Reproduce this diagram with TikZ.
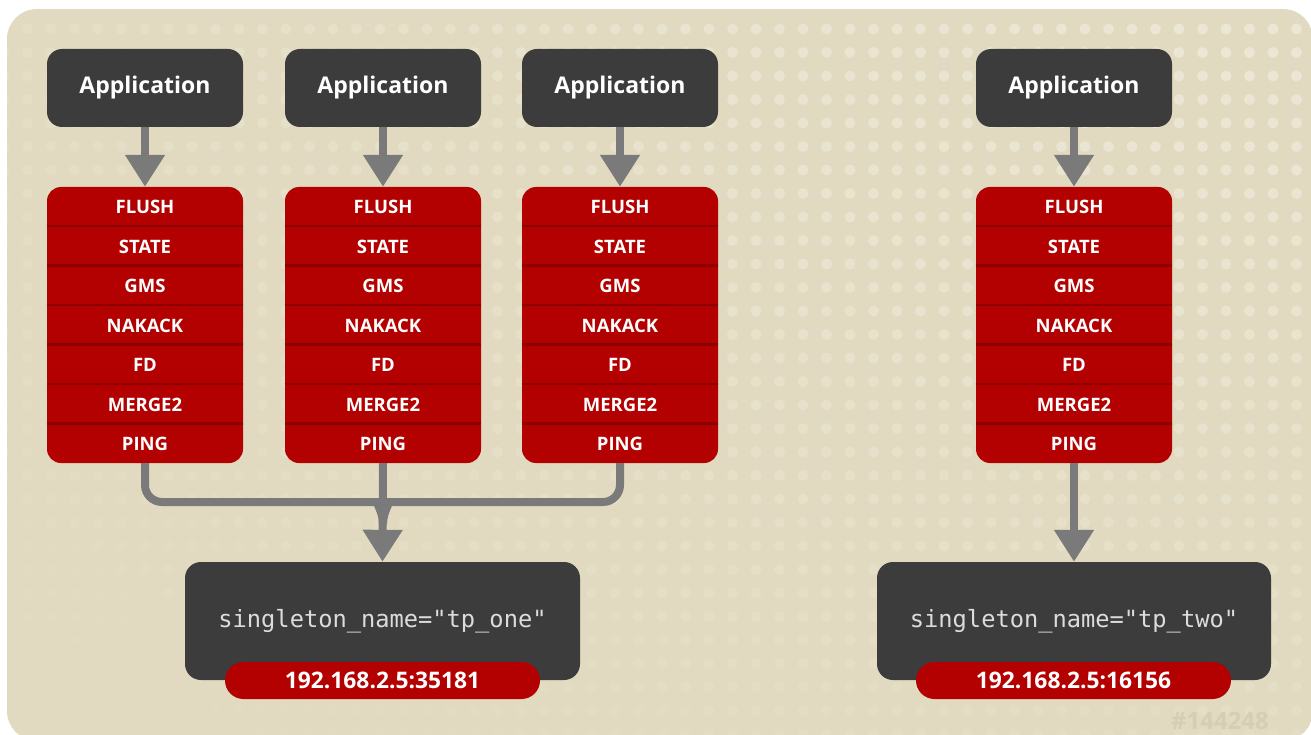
\documentclass[tikz,border=0pt]{standalone}
\usepackage{fontspec}
\setmainfont{Open Sans}
\setmonofont{DejaVu Sans Mono}
\usetikzlibrary{arrows.meta,calc}
\definecolor{bgc}{HTML}{E1DAC0}
\definecolor{dotc}{HTML}{ECE7D5}
\definecolor{darkc}{HTML}{3C3C3C}
\definecolor{redc}{HTML}{B30000}
\definecolor{sepc}{HTML}{8C0000}
\definecolor{arrc}{HTML}{7A7A7A}
\definecolor{monoc}{HTML}{DCDCDC}
\definecolor{wmc}{HTML}{D5CEB3}
\tikzset{
  appbox/.style={fill=darkc, rounded corners=15pt, minimum width=196pt, minimum height=78pt, text=white, font=\bfseries\fontsize{23}{26}\selectfont, inner sep=0pt},
  stackbox/.style={fill=redc, rounded corners=14pt, minimum width=196pt, minimum height=276pt, inner sep=0pt},
  layer/.style={text=white, font=\bfseries\fontsize{18.5}{20}\selectfont, inner sep=0pt},
  sepline/.style={draw=sepc, line width=2.5pt},
  tpbox/.style={fill=darkc, rounded corners=16pt, minimum height=118pt, text=monoc, font=\ttfamily\fontsize{23.7}{26}\selectfont, inner sep=0pt},
  pill/.style={fill=redc, rounded corners=18.5pt, minimum width=315pt, minimum height=37pt, text=white, font=\bfseries\fontsize{22.8}{24}\selectfont, inner sep=0pt},
  arr/.style={draw=arrc, line width=8pt, -{Triangle[width=38pt,length=32pt]}},
  conn/.style={draw=arrc, line width=8pt, rounded corners=17pt},
}
\begin{document}
\begin{tikzpicture}[x=1pt,y=-1pt]
\useasboundingbox (0,0) rectangle (1311,735);
\fill[white] (0,0) rectangle (1311,735);
\begin{scope}
\clip[rounded corners=30pt] (7,9) rectangle (1313,741);
\fill[bgc] (7,9) rectangle (1313,741);
\foreach \i in {0,...,55} {
  \foreach \j in {0,...,30} {
    \pgfmathsetmacro\xx{1296.5-23.5*\i}
    \pgfmathsetmacro\yy{29+23.5*\j}
    \pgfmathsetmacro\op{min(1,max(0,1.1-sqrt(((1311-\xx)/1700)^2+(\yy/900)^2)))}
    \fill[dotc, opacity=\op] (\xx,\yy) circle (5.5pt);
  }
}
\end{scope}
% applications
\node[appbox] (a1) at (145,88) {Application};
\node[appbox] (a2) at (383,88) {Application};
\node[appbox] (a3) at (620,88) {Application};
\node[appbox] (a4) at (1074,88) {Application};
% stacks
\foreach \n/\cx in {s1/145, s2/383, s3/620, s4/1074} {
  \node[stackbox] (\n) at (\cx,325) {};
  \foreach \k in {1,...,6} {
    \draw[sepline] ($(\n.north west)+(0,39.43*\k)$) -- ($(\n.north east)+(0,39.43*\k)$);
  }
  \node[layer] (\n-1) at (\cx,207) {FLUSH};
  \node[layer] (\n-2) at (\cx,246.5) {STATE};
  \node[layer] (\n-3) at (\cx,286) {GMS};
  \node[layer] (\n-4) at (\cx,325.5) {NAKACK};
  \node[layer] (\n-5) at (\cx,365) {FD};
  \node[layer] (\n-6) at (\cx,404.5) {MERGE2};
  \node[layer] (\n-7) at (\cx,444) {PING};
}
% arrows app -> stack
\draw[arr] (a1) -- (s1);
\draw[arr] (a2) -- (s2);
\draw[arr] (a3) -- (s3);
\draw[arr] (a4) -- (s4);
% transport boxes
\node[tpbox, minimum width=395pt] (b1) at (382.5,621) {singleton\_name="tp\_one"};
\node[tpbox, minimum width=394pt] (b2) at (1074,621) {singleton\_name="tp\_two"};
\node[pill] (p1) at (382.5,680.5) {192.168.2.5:35181};
\node[pill] (p2) at (1073.5,680.5) {192.168.2.5:16156};
% fork
\coordinate (fk) at (383,502);
\coordinate (jn) at (383,524);
\draw[conn] (s1.south) -- (s1.south |- fk) -- (362,502) .. controls (374,502) and (383,510) .. (jn);
\draw[conn] (s3.south) -- (s3.south |- fk) -- (404,502) .. controls (392,502) and (383,510) .. (jn);
\draw[arr] (s2.south) -- (b1.north);
\draw[arr] (s4.south) -- (b2.north);
% watermark
\node[text=wmc, font=\bfseries\fontsize{24}{26}\selectfont, inner sep=0pt] (wm) at (1220,721) {\#144248};
\end{tikzpicture}
\end{document}
